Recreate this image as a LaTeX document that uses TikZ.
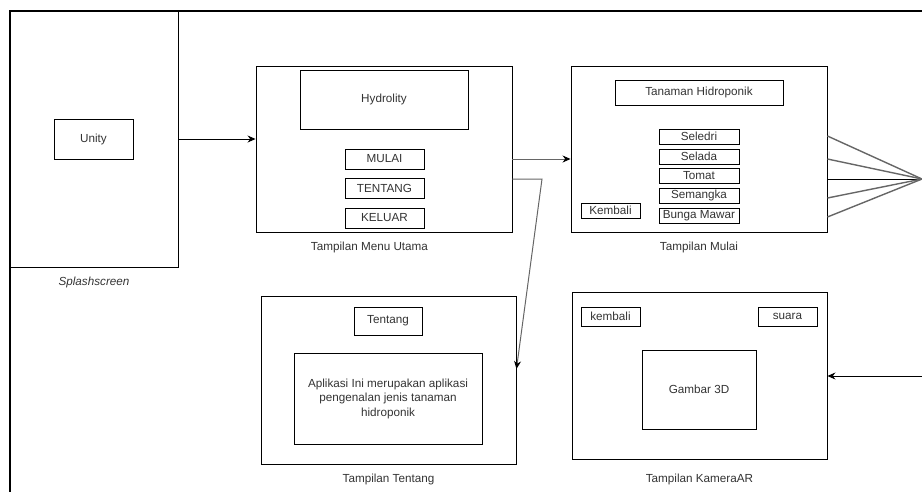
\documentclass[tikz,border=0pt]{standalone}
\usepackage{fontspec}
\setmainfont{Liberation Sans}
\usetikzlibrary{arrows.meta}
\definecolor{txt}{HTML}{333333}
\definecolor{ln}{HTML}{666666}
\tikzset{
  box/.style={draw=black, line width=0.9pt, inner sep=0pt, text=txt,
    font=\fontsize{11.7}{14.5}\selectfont, align=center},
  lbl/.style={inner sep=0pt, text=txt, font=\fontsize{11.7}{14.5}\selectfont},
  arr/.style={line width=1pt, -{Stealth[length=8pt,width=7pt,color=black]}},
  fanline/.style={draw=ln, line width=1.4pt},
}
\begin{document}
\begin{tikzpicture}[x=1pt,y=-1pt]
\useasboundingbox (0,0) rectangle (922,491);
% outer frame
\draw[line width=2.4pt, line cap=rect] (922,11) -- (10,11) -- (10,492);
% splashscreen
\node[box, minimum width=168pt, minimum height=256pt] (splash) at (94,139) {};
\node[box, minimum width=79pt, minimum height=40pt] (unity) at (93.5,139) {Unity};
\node[lbl, font=\fontsize{11.7}{14.5}\selectfont\itshape] (splashl) at (94,282) {Splashscreen};
% menu utama
\node[box, minimum width=256pt, minimum height=166pt] (menu) at (384,149) {};
\node[box, minimum width=168pt, minimum height=59pt] (hydro) at (384,99.5) {Hydrolity};
\node[box, minimum width=79pt, minimum height=20pt] (bmulai) at (384.5,159) {MULAI};
\node[box, minimum width=79pt, minimum height=20pt] (btentang) at (384.5,188.5) {TENTANG};
\node[box, minimum width=79pt, minimum height=20pt] (bkeluar) at (384.5,218) {KELUAR};
\node[lbl] (menul) at (369.5,247) {Tampilan Menu Utama};
% mulai
\node[box, minimum width=256pt, minimum height=166pt] (mulai) at (699,149) {};
\node[box, minimum width=168pt, minimum height=25pt] (tanaman) at (699,92.5) {Tanaman Hidroponik};
\node[box, minimum width=80pt, minimum height=15pt] (seledri) at (699,136.5) {Seledri};
\node[box, minimum width=80pt, minimum height=15pt] (selada) at (699,156.5) {Selada};
\node[box, minimum width=80pt, minimum height=15pt] (tomat) at (699,176) {Tomat};
\node[box, minimum width=80pt, minimum height=15pt] (semangka) at (699,195.5) {Semangka};
\node[box, minimum width=80pt, minimum height=15pt] (bunga) at (699,215.5) {Bunga Mawar};
\node[box, minimum width=59pt, minimum height=15pt] (kembali) at (610.5,210.5) {Kembali};
\node[lbl] (mulail) at (699,247) {Tampilan Mulai};
% tentang
\node[box, minimum width=255pt, minimum height=168pt] (tentang) at (388.5,380) {};
\node[box, minimum width=68pt, minimum height=28pt] (ttitle) at (388,321) {Tentang};
\node[box, minimum width=188pt, minimum height=91pt] (desc) at (388,398.5)
  {Aplikasi Ini merupakan aplikasi\\pengenalan jenis tanaman\\hidroponik};
\node[lbl] (tentangl) at (388.5,479) {Tampilan Tentang};
% kamera
\node[box, minimum width=255pt, minimum height=167pt] (kamera) at (699.5,375.5) {};
\node[box, minimum width=59pt, minimum height=19pt] (kkembali) at (610.5,316.5) {kembali};
\node[box, minimum width=59pt, minimum height=19pt] (suara) at (787.5,316.5) {suara};
\node[box, minimum width=114pt, minimum height=79pt] (gambar) at (699,389.5) {Gambar 3D};
\node[lbl] (kameral) at (699.5,479) {Tampilan KameraAR};
% connectors
\draw[arr] (splash.east) -- (splash.east -| menu.west);
\draw[arr, draw=ln] ([yshift=-10pt]menu.east) -- ([yshift=-10pt]mulai.west);
\coordinate (bend) at (542,179);
\draw[arr, draw=ln] ([yshift=-30pt]menu.east) -- (bend) -- ([yshift=11pt]tentang.east);
\coordinate (fan) at (922,179);
\draw[fanline] ([yshift=13pt]mulai.east) -- (fan);
\draw[fanline] ([yshift=-10pt]mulai.east) -- (fan);
\draw[fanline, draw=black, line width=1pt] ([yshift=-30pt]mulai.east) -- (fan);
\draw[fanline] ([yshift=-49pt]mulai.east) -- (fan);
\draw[fanline] ([yshift=-68pt]mulai.east) -- (fan);
\coordinate (kin) at (922,376);
\draw[arr] (kin) -- (kin -| kamera.east);
\end{tikzpicture}
\end{document}
